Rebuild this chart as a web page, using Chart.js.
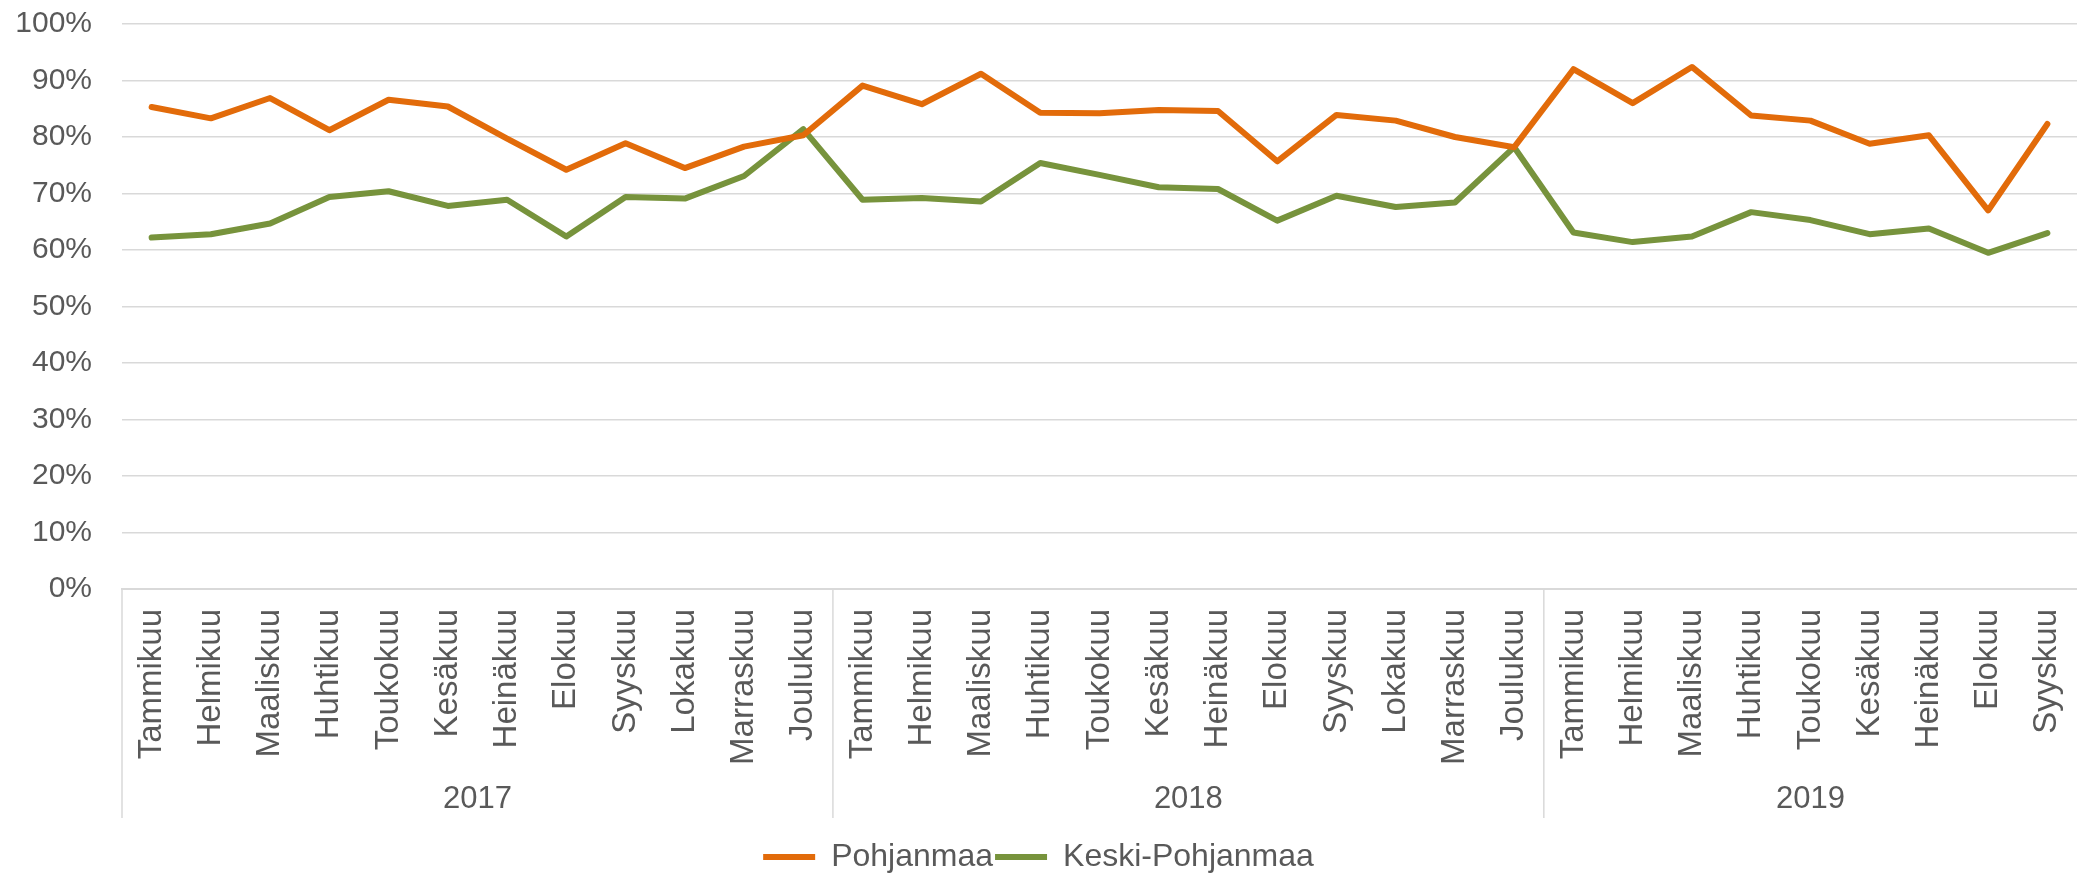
<!DOCTYPE html>
<html>
<head>
    <meta charset="utf-8">
    <title>Pohjanmaa / Keski-Pohjanmaa</title>
    <script src="https://cdn.jsdelivr.net/npm/chart.js"></script>
    <style>
        html, body { margin: 0; padding: 0; background: #fff; }
        #wrap { width: 2077px; height: 874px; }
    </style>
</head>
<body>
<div id="wrap"><canvas id="chart"></canvas></div>

<script>
    const months = ['Tammikuu', 'Helmikuu', 'Maaliskuu', 'Huhtikuu', 'Toukokuu', 'Kesäkuu',
        'Heinäkuu', 'Elokuu', 'Syyskuu', 'Lokakuu', 'Marraskuu', 'Joulukuu'];
    const years = ['2017', '2018', '2019'];
    const monthsPerYear = [12, 12, 9];

    const pohjanmaa = [85.3, 83.3, 86.9, 81.2, 86.6, 85.4, 79.7, 74.2, 78.9, 74.5, 78.3, 80.3,
        89.1, 85.8, 91.2, 84.3, 84.2, 84.8, 84.6, 75.7, 83.9, 82.9, 80.0, 78.2,
        92.0, 86.0, 92.4, 83.8, 82.9, 78.8, 80.3, 67.0, 82.3];
    const keskiPohjanmaa = [62.2, 62.8, 64.7, 69.4, 70.4, 67.8, 68.9, 62.4, 69.4, 69.1, 73.1, 81.4,
        68.9, 69.2, 68.6, 75.4, 73.3, 71.1, 70.8, 65.2, 69.6, 67.6, 68.4, 78.2,
        63.1, 61.4, 62.4, 66.7, 65.3, 62.8, 63.8, 59.5, 63.0];

    const labels = [];
    monthsPerYear.forEach(n => { for (let i = 0; i < n; i++) labels.push(months[i]); });

    const textColor = '#595959';
    const gridColor = '#D9D9D9';
    const fontFamily = '"Liberation Sans", Arial, sans-serif';
    const legendShift = 9;

    // year row + group separators under the month labels
    const yearGroups = {
        id: 'yearGroups',
        afterDraw(chart) {
            const ctx = chart.ctx;
            const x = chart.scales.x;
            const area = chart.chartArea;
            const step = (area.right - area.left) / labels.length;
            const bottom = 818;
            ctx.save();
            ctx.strokeStyle = gridColor;
            ctx.lineWidth = 1.5;
            let start = 0;
            monthsPerYear.forEach((n, i) => {
                const x0 = x.getPixelForValue(start) - step / 2;
                ctx.beginPath();
                ctx.moveTo(x0, area.bottom);
                ctx.lineTo(x0, bottom);
                ctx.stroke();
                const mid = x0 + n * step / 2;
                ctx.fillStyle = textColor;
                ctx.font = '31px ' + fontFamily;
                ctx.textAlign = 'center';
                ctx.textBaseline = 'middle';
                ctx.fillText(years[i], mid, 799);
                start += n;
            });
            ctx.restore();
        }
    };

    new Chart(document.getElementById('chart'), {
        type: 'line',
        data: {
            labels: labels,
            datasets: [{
                label: 'Pohjanmaa',
                data: pohjanmaa,
                borderColor: '#E26B0A',
                backgroundColor: '#E26B0A',
                borderWidth: 6,
                pointRadius: 0,
                tension: 0,
                borderJoinStyle: 'round',
                borderCapStyle: 'round'
            }, {
                label: 'Keski-Pohjanmaa',
                data: keskiPohjanmaa,
                borderColor: '#77933C',
                backgroundColor: '#77933C',
                borderWidth: 6,
                pointRadius: 0,
                tension: 0,
                borderJoinStyle: 'round',
                borderCapStyle: 'round'
            }]
        },
        options: {
            responsive: true,
            maintainAspectRatio: false,
            animation: false,
            layout: { padding: { top: 24, right: 0, left: 0, bottom: -legendShift } },
            scales: {
                x: {
                    offset: true,
                    grid: { display: false, drawTicks: false },
                    border: { color: gridColor, width: 2 },
                    ticks: {
                        autoSkip: false,
                        minRotation: 90,
                        maxRotation: 90,
                        padding: 20,
                        color: textColor,
                        font: { family: fontFamily, size: 33 }
                    },
                    afterFit(scale) {
                        scale.paddingLeft = 0;
                        scale.paddingRight = 0;
                        scale.height = scale.chart.height + legendShift - 589 - scale.chart.legend.height;
                    }
                },
                y: {
                    min: 0,
                    max: 100,
                    grid: { color: gridColor, lineWidth: 1.5, drawTicks: false },
                    border: { display: false },
                    ticks: {
                        stepSize: 10,
                        padding: 30,
                        color: textColor,
                        font: { family: fontFamily, size: 30 },
                        callback: v => v + '%'
                    },
                    afterFit(scale) {
                        scale.paddingTop = 0;
                        scale.paddingBottom = 0;
                        scale.width = 122;
                    }
                }
            },
            plugins: {
                legend: {
                    position: 'bottom',
                    labels: {
                        usePointStyle: true,
                        pointStyle: 'line',
                        pointStyleWidth: 52,
                        padding: 2,
                        color: textColor,
                        font: { family: fontFamily, size: 32 }
                    }
                },
                tooltip: { enabled: false }
            }
        },
        plugins: [yearGroups]
    });
</script>
</body>
</html>
